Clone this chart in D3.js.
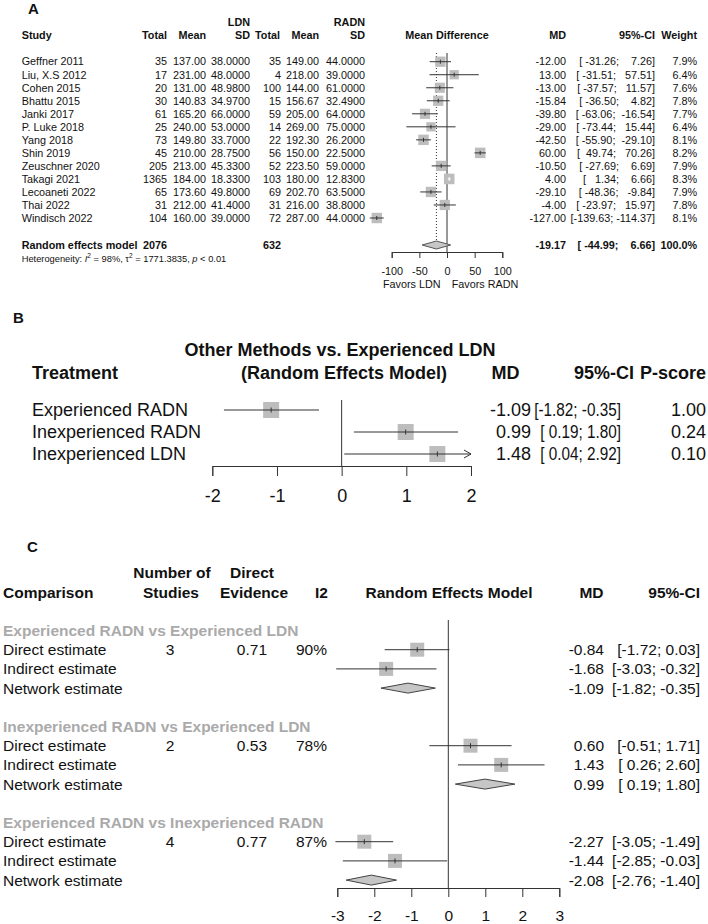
<!DOCTYPE html>
<html><head><meta charset="utf-8">
<script src="https://cdn.jsdelivr.net/npm/d3@7"></script>
<style>
body{margin:0;background:#fff}
svg text{font-family:"Liberation Sans",Arial,Helvetica,sans-serif;fill:#111}
</style></head><body>
<svg id="chart" width="708" height="924" xmlns="http://www.w3.org/2000/svg"></svg>
<script>
// ---------- Panel A data ----------
const studies = ["Geffner 2011","Liu, X.S 2012","Cohen 2015","Bhattu 2015","Janki 2017","P. Luke 2018","Yang 2018","Shin 2019","Zeuschner 2020","Takagi 2021","Lecoaneti 2022","Thai 2022","Windisch 2022"];
const ldnTotal = [35,17,20,30,61,25,73,45,205,1365,65,31,104];
const ldnMean = [137.00,231.00,131.00,140.83,165.20,240.00,149.80,210.00,213.00,184.00,173.60,212.00,160.00];
const ldnSD = [38.0000,48.0000,48.9800,34.9700,66.0000,53.0000,33.7000,28.7500,45.3300,18.3300,49.8000,41.4000,39.0000];
const radnTotal = [35,4,100,15,59,14,22,56,52,103,69,31,72];
const radnMean = [149.00,218.00,144.00,156.67,205.00,269.00,192.30,150.00,223.50,180.00,202.70,216.00,287.00];
const radnSD = [44.0000,39.0000,61.0000,32.4900,64.0000,75.0000,26.2000,22.5000,59.0000,12.8300,63.5000,38.8000,44.0000];
const mdA = [-12.00,13.00,-13.00,-15.84,-39.80,-29.00,-42.50,60.00,-10.50,4.00,-29.10,-4.00,-127.00];
const lowA = [-31.26,-31.51,-37.57,-36.50,-63.06,-73.44,-55.90,49.74,-27.69,1.34,-48.36,-23.97,-139.63];
const upA = [7.26,57.51,11.57,4.82,-16.54,15.44,-29.10,70.26,6.69,6.66,-9.84,15.97,-114.37];
const weightA = [7.9,6.4,7.6,7.8,7.7,6.4,8.1,8.2,7.9,8.3,7.9,7.8,8.1];
const pooledA = {md:-19.17, low:-44.99, up:6.66, w:100.0, nLDN:2076, nRADN:632};
const ticksA = [-100,-50,0,50,100];

// ---------- Panel B data ----------
const treatments = ["Experienced RADN","Inexperienced RADN","Inexperienced LDN"];
const mdB = [-1.09,0.99,1.48];
const lowB = [-1.82,0.19,0.04];
const upB = [-0.35,1.80,2.92];
const pscoreB = ["1.00","0.24","0.10"];
const ticksB = [-2,-1,0,1,2];

// ---------- Panel C data ----------
const comparisons = ["Experienced RADN vs Experienced LDN","Inexperienced RADN vs Experienced LDN","Experienced RADN vs Inexperienced RADN"];
const estimateTypes = ["Direct estimate","Indirect estimate","Network estimate"];
const nStudies = [3,2,4];
const directEvidence = ["0.71","0.53","0.77"];
const i2C = ["90%","78%","87%"];
const mdC = [[-0.84,-1.68,-1.09],[0.60,1.43,0.99],[-2.27,-1.44,-2.08]];
const lowC = [[-1.72,-3.03,-1.82],[-0.51,0.26,0.19],[-3.05,-2.85,-2.76]];
const upC = [[0.03,-0.32,-0.35],[1.71,2.60,1.80],[-1.49,-0.03,-1.40]];
const ticksC = [-3,-2,-1,0,1,2,3];

const svg = d3.select("#chart");
svg.append("rect").attr("width",708).attr("height",924).attr("fill","#fff");
const LINE = "#333", SQ = "#bdbdbd", DIA = "#c6c6c6";

function T(g, x, y, s, o = {}) {
  return g.append("text").attr("x", x).attr("y", y).attr("dy", "0.35em")
    .attr("text-anchor", o.a || "start").attr("font-size", o.fs || 11)
    .attr("font-weight", o.b ? "bold" : null)
    .attr("xml:space", "preserve").style("white-space", "pre")
    .style("fill", o.fill || "#111").text(s);
}
function squeeze(sel, k) {
  const w = sel.node().getComputedTextLength();
  sel.attr("textLength", w * k).attr("lengthAdjust", "spacingAndGlyphs");
  return sel;
}
function styleAxis(ax, fs) {
  ax.attr("font-family", null).attr("font-size", fs);
  ax.selectAll("path,line").attr("stroke", LINE);
  ax.selectAll("text").style("fill", "#111");
}
const f2 = n => n.toFixed(2), f4 = n => n.toFixed(4), f1 = n => n.toFixed(1);
const fTick = d => String(d);

// ================= PANEL A =================
const gA = svg.append("g");
const FA = 10.8;
const xA = d3.scaleLinear().domain([-100, 100]).range([391.7, 502.3]);
const yA = d3.scaleLinear().domain([0, 12]).range([61.7, 218]);
const RSD = 365; // right edge of RADN SD column
T(gA, 28, 9, "A", {fs: 15, b: true});
T(gA, 250, 22, "LDN", {fs: FA, b: true, a: "end"});
T(gA, RSD, 22, "RADN", {fs: FA, b: true, a: "end"});
T(gA, 21.7, 35, "Study", {fs: FA, b: true});
[["Total",167],["Mean",206],["SD",250],["Total",280],["Mean",319],["SD",RSD],["MD",566],["95%-CI",655],["Weight",697]]
  .forEach(([s, x]) => T(gA, x, 35, s, {fs: FA, b: true, a: "end"}));
T(gA, 447, 35, "Mean Difference", {fs: FA, b: true, a: "middle"});

// CI strings padded like R's formatCI (common width), right-aligned
const ciA = (lo, up) => "[" + f2(lo).padStart(7, " ") + "; " + f2(up).padStart(7, " ") + "]";

// reference lines
gA.append("line").attr("x1", xA(0)).attr("x2", xA(0)).attr("y1", 53).attr("y2", 252).attr("stroke", LINE);
gA.append("line").attr("x1", xA(pooledA.md)).attr("x2", xA(pooledA.md)).attr("y1", 53).attr("y2", 241)
  .attr("stroke", LINE).attr("stroke-dasharray", "1,2");

studies.forEach((s, i) => {
  const y = yA(i);
  T(gA, 21.7, y, s, {fs: FA});
  T(gA, 167, y, ldnTotal[i], {fs: FA, a: "end"});
  T(gA, 206, y, f2(ldnMean[i]), {fs: FA, a: "end"});
  T(gA, 250, y, f4(ldnSD[i]), {fs: FA, a: "end"});
  T(gA, 281, y, radnTotal[i], {fs: FA, a: "end"});
  T(gA, 319, y, f2(radnMean[i]), {fs: FA, a: "end"});
  T(gA, RSD, y, f4(radnSD[i]), {fs: FA, a: "end"});
  T(gA, 566, y, f2(mdA[i]), {fs: FA, a: "end"});
  T(gA, 655, y, ciA(lowA[i], upA[i]), {fs: FA, a: "end"});
  T(gA, 697, y, f1(weightA[i]) + "%", {fs: FA, a: "end"});
  const side = 10.5 * Math.sqrt(weightA[i] / 8.2);
  gA.append("rect").attr("x", xA(mdA[i]) - side / 2).attr("y", y - side / 2)
    .attr("width", side).attr("height", side).attr("fill", SQ);
  const inside = (xA(upA[i]) - xA(lowA[i])) < side;
  const col = inside ? "#fff" : LINE;
  gA.append("line").attr("x1", xA(lowA[i])).attr("x2", xA(upA[i])).attr("y1", y).attr("y2", y).attr("stroke", col);
  gA.append("line").attr("x1", xA(mdA[i])).attr("x2", xA(mdA[i])).attr("y1", y - 2).attr("y2", y + 2).attr("stroke", col);
});

// pooled
const yP = 245;
T(gA, 21.7, yP, "Random effects model", {fs: FA, b: true});
T(gA, 167, yP, pooledA.nLDN, {fs: FA, b: true, a: "end"});
T(gA, 281, yP, pooledA.nRADN, {fs: FA, b: true, a: "end"});
T(gA, 566, yP, f2(pooledA.md), {fs: FA, b: true, a: "end"});
T(gA, 655, yP, ciA(pooledA.low, pooledA.up), {fs: FA, b: true, a: "end"});
T(gA, 697, yP, f1(pooledA.w) + "%", {fs: FA, b: true, a: "end"});
gA.append("path").attr("d", `M${xA(pooledA.low)},${yP} L${xA(pooledA.md)},${yP - 4} L${xA(pooledA.up)},${yP} L${xA(pooledA.md)},${yP + 4} Z`)
  .attr("fill", DIA).attr("stroke", "#555");

const het = gA.append("text").attr("x", 21.7).attr("y", 261.5).attr("font-size", 9.3).style("fill", "#111");
het.append("tspan").text("Heterogeneity: ");
het.append("tspan").style("font-style", "italic").text("I");
het.append("tspan").attr("dy", -3.5).attr("font-size", 6.5).text("2");
het.append("tspan").attr("dy", 3.5).text(" = 98%, τ");
het.append("tspan").attr("dy", -3.5).attr("font-size", 6.5).text("2");
het.append("tspan").attr("dy", 3.5).text(" = 1771.3835, ");
het.append("tspan").style("font-style", "italic").text("p");
het.append("tspan").text(" < 0.01");

const axA = gA.append("g").attr("transform", "translate(0,252)")
  .call(d3.axisBottom(xA).tickValues(ticksA).tickSize(6).tickSizeOuter(6).tickPadding(9).tickFormat(fTick));
styleAxis(axA, FA);
T(gA, 411.7, 284.5, "Favors LDN", {fs: FA, a: "middle"});
T(gA, 485, 284.5, "Favors RADN", {fs: FA, a: "middle"});

// ================= PANEL B =================
const gB = svg.append("g");
const FB = 18;
const xB = d3.scaleLinear().domain([-2, 2]).range([212.3, 471]);
const yB = d3.scaleLinear().domain([0, 2]).range([410, 454]);
T(gB, 13, 318, "B", {fs: 15, b: true});
T(gB, 340, 350, "Other Methods vs. Experienced LDN", {fs: FB, b: true, a: "middle"});
T(gB, 32, 373, "Treatment", {fs: FB, b: true});
T(gB, 344, 373, "(Random Effects Model)", {fs: FB, b: true, a: "middle"});
T(gB, 505.5, 373, "MD", {fs: FB, b: true, a: "middle"});
T(gB, 634, 373, "95%-CI", {fs: FB, b: true, a: "end"});
T(gB, 706, 373, "P-score", {fs: FB, b: true, a: "end"});
gB.append("line").attr("x1", xB(0)).attr("x2", xB(0)).attr("y1", 400).attr("y2", 466).attr("stroke", LINE);
treatments.forEach((s, i) => {
  const y = yB(i);
  T(gB, 32, y, s, {fs: FB});
  T(gB, 531, y, f2(mdB[i]), {fs: FB, a: "end"});
  const ci = "[" + (lowB[i] >= 0 ? " " : "") + f2(lowB[i]) + "; " + f2(upB[i]) + "]";
  squeeze(T(gB, 621, y, ci, {fs: FB, a: "end"}), 0.85);
  T(gB, 706, y, pscoreB[i], {fs: FB, a: "end"});
  const side = 16;
  gB.append("rect").attr("x", xB(mdB[i]) - side / 2).attr("y", y - side / 2)
    .attr("width", side).attr("height", side).attr("fill", SQ);
  const hi = Math.min(upB[i], xB.domain()[1]);
  gB.append("line").attr("x1", xB(lowB[i])).attr("x2", xB(hi)).attr("y1", y).attr("y2", y).attr("stroke", LINE);
  if (upB[i] > xB.domain()[1]) {
    const xe = xB(hi);
    gB.append("path").attr("d", `M${xe - 7},${y - 4} L${xe},${y} L${xe - 7},${y + 4}`).attr("fill", "none").attr("stroke", LINE);
  }
  gB.append("line").attr("x1", xB(mdB[i])).attr("x2", xB(mdB[i])).attr("y1", y - 2.5).attr("y2", y + 2.5).attr("stroke", LINE);
});
const axB = gB.append("g").attr("transform", "translate(0,466)")
  .call(d3.axisBottom(xB).tickValues(ticksB).tickSize(10).tickSizeOuter(10).tickPadding(13).tickFormat(fTick));
styleAxis(axB, FB);

// ================= PANEL C =================
const gC = svg.append("g");
const FC = 15.5;
const xC = d3.scaleLinear().domain([-3, 3]).range([337.3, 559.3]);
const rowC = k => 630.5 + 19.2 * k;
T(gC, 27, 547, "C", {fs: 15, b: true});
T(gC, 172, 573, "Number of", {fs: FC, b: true, a: "middle"});
T(gC, 252, 573, "Direct", {fs: FC, b: true, a: "middle"});
T(gC, 3, 593, "Comparison", {fs: FC, b: true});
T(gC, 171, 593, "Studies", {fs: FC, b: true, a: "middle"});
T(gC, 254, 593, "Evidence", {fs: FC, b: true, a: "middle"});
T(gC, 328, 593, "I2", {fs: FC, b: true, a: "end"});
T(gC, 449, 593, "Random Effects Model", {fs: FC, b: true, a: "middle"});
T(gC, 591.5, 593, "MD", {fs: FC, b: true, a: "middle"});
T(gC, 700, 593, "95%-CI", {fs: FC, b: true, a: "end"});
gC.append("line").attr("x1", xC(0)).attr("x2", xC(0)).attr("y1", 620).attr("y2", 888).attr("stroke", LINE);

comparisons.forEach((c, gi) => {
  const base = gi * 5;
  T(gC, 3, rowC(base), c, {fs: FC, b: true, fill: "#aaa"});
  estimateTypes.forEach((e, j) => {
    const y = rowC(base + 1 + j);
    T(gC, 3, y, e, {fs: FC});
    if (j === 0) {
      T(gC, 170, y, nStudies[gi], {fs: FC, a: "middle"});
      T(gC, 267, y, directEvidence[gi], {fs: FC, a: "end"});
      T(gC, 327, y, i2C[gi], {fs: FC, a: "end"});
    }
    const m = mdC[gi][j], lo = lowC[gi][j], up = upC[gi][j];
    T(gC, 604, y, f2(m), {fs: FC, a: "end"});
    const ci = "[" + (lo >= 0 ? " " : "") + f2(lo) + "; " + f2(up) + "]";
    T(gC, 700, y, ci, {fs: FC, a: "end"});
    if (j < 2) {
      const side = 14;
      gC.append("rect").attr("x", xC(m) - side / 2).attr("y", y - side / 2)
        .attr("width", side).attr("height", side).attr("fill", SQ);
      gC.append("line").attr("x1", xC(lo)).attr("x2", xC(up)).attr("y1", y).attr("y2", y).attr("stroke", LINE);
      gC.append("line").attr("x1", xC(m)).attr("x2", xC(m)).attr("y1", y - 2.5).attr("y2", y + 2.5).attr("stroke", LINE);
    } else {
      gC.append("path").attr("d", `M${xC(lo)},${y} L${xC(m)},${y - 5} L${xC(up)},${y} L${xC(m)},${y + 5} Z`)
        .attr("fill", DIA).attr("stroke", "#444");
    }
  });
});
const axC = gC.append("g").attr("transform", "translate(0,888)")
  .call(d3.axisBottom(xC).tickValues(ticksC).tickSize(9).tickSizeOuter(9).tickPadding(13).tickFormat(fTick));
styleAxis(axC, FC);
</script></body></html>
